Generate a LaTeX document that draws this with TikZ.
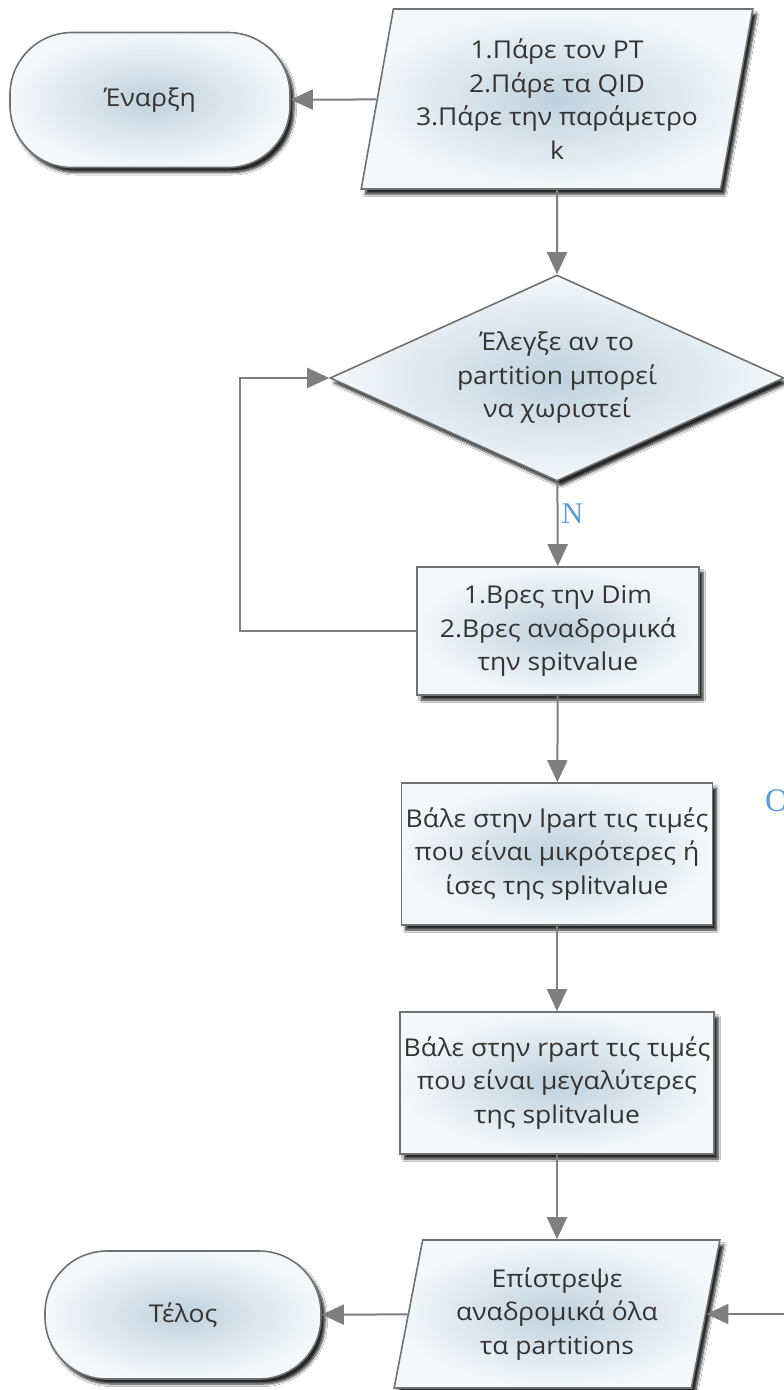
\documentclass[tikz,border=0pt]{standalone}
\usepackage{fontspec}
\setmainfont{Open Sans}[FakeStretch=1.08]
\newfontfamily\lblfont{Liberation Serif}
\usetikzlibrary{shapes.geometric,arrows.meta,shadows.blur}

\definecolor{edge}{HTML}{717171}
\definecolor{wire}{HTML}{7F7F7F}
\definecolor{fillin}{HTML}{BFD1DE}
\definecolor{fillout}{HTML}{F5F8FA}
\definecolor{ink}{HTML}{333333}
\definecolor{lblblue}{HTML}{5B9BD5}

\tikzset{
  base/.style={draw=edge, line width=1.6pt, inner color=fillin, outer color=fillout,
    text=ink, font=\fontsize{24.5}{33.5}\selectfont, align=center,
    blur shadow={shadow xshift=4pt, shadow yshift=-5pt, shadow blur radius=2.5pt,
      shadow blur steps=6, shadow opacity=85}},
  terminal/.style={base, rectangle, rounded corners=62pt},
  io/.style={base, trapezium, trapezium left angle=77, trapezium right angle=103,
    trapezium stretches=true, inner sep=0pt},
  decision/.style={base, diamond, shape aspect=2.2, inner sep=0pt},
  process/.style={base, rectangle, inner sep=0pt},
  flow/.style={draw=wire, line width=2pt, -{Triangle[length=22pt,width=20pt]}},
  cond/.style={text=lblblue, font=\lblfont\fontsize{30}{30}\selectfont, inner sep=0pt}
}

\begin{document}
\begin{tikzpicture}[x=1pt, y=-1pt]
  \clip (0,0) rectangle (784,1390);
  \fill[white] (0,0) rectangle (784,1390);

  % start / end terminals
  \node[terminal, minimum width=280pt, minimum height=135pt] (start) at (150,100) {Έναρξη};
  \node[terminal, minimum width=276pt, minimum height=128pt] (finish) at (183,1315) {Τέλος};

  % input
  \node[io, minimum width=392pt, minimum height=180pt] (input) at (557,99)
    {1.Πάρε τον PT\\2.Πάρε τα QID\\3.Πάρε την παράμετρο\\k};

  % decision
  \node[decision, minimum width=454pt, minimum height=206pt] (check) at (557,378)
    {Έλεγξε αν το\\partition μπορεί\\να χωριστεί};

  % processing steps
  \node[process, minimum width=282pt, minimum height=128pt] (dim) at (558,631)
    {1.Βρες την Dim\\2.Βρες αναδρομικά\\την spitvalue};
  \node[process, minimum width=311pt, minimum height=142pt] (lpart) at (557,854)
    {Βάλε στην lpart τις τιμές\\που είναι μικρότερες ή\\ίσες της splitvalue};
  \node[process, minimum width=314pt, minimum height=142pt] (rpart) at (557,1083)
    {Βάλε στην rpart τις τιμές\\που είναι μεγαλύτερες\\της splitvalue};

  % output
  \node[io, minimum width=326pt, minimum height=148pt] (output) at (557,1314)
    {Επίστρεψε\\αναδρομικά όλα\\τα partitions};

  % connectors
  \draw[flow] (input) -- (start);
  \draw[flow] (input) -- (check);
  \draw[flow] (check) -- node[cond, anchor=west, pos=0.38, xshift=3pt] {N} (dim);
  \coordinate (loop) at (240,631);
  \draw[flow] (dim.west) -- (loop) |- (check.west);
  \draw[flow] (dim) -- (lpart);
  \draw[flow] (lpart) -- (rpart);
  \draw[flow] (rpart) -- (output);
  \draw[flow] (output) -- (finish);
  \coordinate (side) at (800,378);
  \draw[flow] (check.east) -- (side) |- (output.east);
  \node[cond, anchor=west, font=\lblfont\fontsize{33}{33}\selectfont] (no) at (765,801) {O};
\end{tikzpicture}
\end{document}
